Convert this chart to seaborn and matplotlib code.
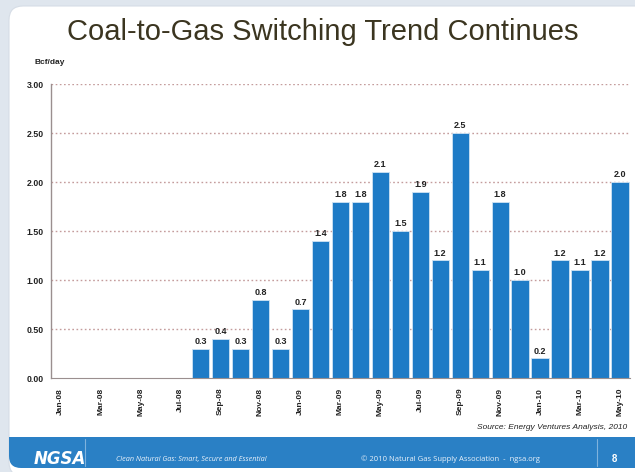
import numpy as np
import pandas as pd
import matplotlib
matplotlib.use("Agg")
import matplotlib.pyplot as plt
from matplotlib.patches import FancyBboxPatch, Rectangle
import seaborn as sns

months = ["Jan-08", "Feb-08", "Mar-08", "Apr-08", "May-08", "Jun-08", "Jul-08",
          "Aug-08", "Sep-08", "Oct-08", "Nov-08", "Dec-08",
          "Jan-09", "Feb-09", "Mar-09", "Apr-09", "May-09", "Jun-09", "Jul-09",
          "Aug-09", "Sep-09", "Oct-09", "Nov-09", "Dec-09",
          "Jan-10", "Feb-10", "Mar-10", "Apr-10", "May-10"]
values = [0, 0, 0, 0, 0, 0, 0,
          0.3, 0.4, 0.3, 0.8, 0.3,
          0.7, 1.4, 1.8, 1.8, 2.1, 1.5, 1.9,
          1.2, 2.5, 1.1, 1.8, 1.0,
          0.2, 1.2, 1.1, 1.2, 2.0]
y_ticks = [0.0, 0.5, 1.0, 1.5, 2.0, 2.5, 3.0]

df = pd.DataFrame({"month": months, "value": values})

sns.set_style("white")
plt.rcParams["font.family"] = ["Liberation Sans", "DejaVu Sans"]
W, H = 635, 472
fig = plt.figure(figsize=(W / 100, H / 100), dpi=100)
fig.patch.set_facecolor("#dfe6ee")

# slide background
bg = fig.add_axes([0, 0, 1, 1], zorder=-10)
bg.set_xlim(0, W)
bg.set_ylim(H, 0)
bg.axis("off")
bg.add_patch(FancyBboxPatch((9, 6), W + 30, 470, boxstyle="round,pad=0,rounding_size=14",
                            facecolor="white", edgecolor="#d6dde6", linewidth=0.8))
bg.add_patch(FancyBboxPatch((9, 437), W + 30, 31, boxstyle="round,pad=0,rounding_size=12",
                            facecolor="#2a80c5", edgecolor="none"))
bg.add_patch(Rectangle((9, 437), W, 14, facecolor="#2a80c5", edgecolor="none"))
bg.plot([85, 85], [439, 466], color="#7fb3dd", lw=0.8)
bg.plot([597, 597], [439, 466], color="#7fb3dd", lw=0.8)

fig.text(0.509, 0.932, "Coal-to-Gas Switching Trend Continues",
         fontsize=21, color="#3b3520", ha="center", va="center")
fig.text(0.055, 0.868, "Bcf/day", fontsize=6, fontweight="bold",
         color="#222222", ha="left", va="center")

ax = fig.add_axes([0.080, 0.199, 0.912, 0.623])
sns.barplot(data=df, x="month", y="value", order=months, color="#1e7bc6",
            saturation=1, width=0.86, edgecolor="#cfe3f3", linewidth=0.6, ax=ax)

ax.set_ylim(0, 3.0)
ax.set_xlim(-0.5, len(months) - 0.5)
ax.set_yticks(y_ticks)
ax.set_yticklabels([f"{t:.2f}" for t in y_ticks], fontsize=6.3, fontweight="bold",
                   color="#222222")
ax.set_xticks(range(0, len(months), 2))
ax.set_xticklabels(months[::2], rotation=90, fontsize=6.0, fontweight="bold",
                   color="#222222")
ax.set_xticks(np.arange(-0.5, len(months), 1), minor=True)
ax.tick_params(axis="x", which="major", length=0, pad=7)
ax.tick_params(axis="x", which="minor", length=3, color="#b08a8a", width=0.6)
ax.tick_params(axis="y", which="major", length=3, color="#9a8f8f", width=0.8, pad=2)
ax.set_xlabel("")
ax.set_ylabel("")

for t in y_ticks[1:]:
    ax.axhline(t, color="#c49c9c", linestyle=(0, (1.2, 1.8)), linewidth=1.0, zorder=0)
ax.set_axisbelow(True)
for s in ["top", "right"]:
    ax.spines[s].set_visible(False)
ax.spines["left"].set_color("#9a8f8f")
ax.spines["left"].set_linewidth(1.0)
ax.spines["bottom"].set_color("#9a8f8f")
ax.spines["bottom"].set_linewidth(0.8)

labels = ["" if v == 0 else f"{v:.1f}" for v in values]
ax.bar_label(ax.containers[0], labels=labels, fontsize=6.5, fontweight="bold",
             color="#222222", padding=2)

fig.text(0.987, 0.095, "Source: Energy Ventures Analysis, 2010",
         style="italic", fontsize=6, color="#222222", ha="right", va="center")

fig.text(0.095, 0.027, "NGSA", fontsize=12, fontweight="bold", style="italic",
         color="white", ha="center", va="center", family=["DejaVu Sans"])
fig.text(0.183, 0.027, "Clean Natural Gas: Smart, Secure and Essential",
         fontsize=5.2, style="italic", color="#e8f1fa", ha="left", va="center",
         family=["Open Sans", "DejaVu Sans"])
fig.text(0.568, 0.027, "\u00a9 2010 Natural Gas Supply Association  -  ngsa.org",
         fontsize=5.5, color="#e8f1fa", ha="left", va="center",
         family=["Open Sans", "DejaVu Sans"])
fig.text(0.968, 0.027, "8", fontsize=7, fontweight="bold", color="white",
         ha="center", va="center")

fig.savefig("out.png", dpi=100, facecolor=fig.get_facecolor())
